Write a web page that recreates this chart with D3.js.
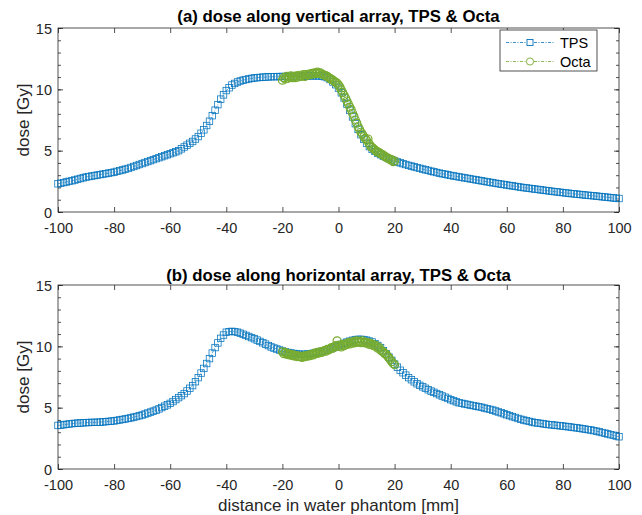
<!DOCTYPE html>
<html>
<head>
<meta charset="utf-8">
<script src="https://cdn.jsdelivr.net/npm/d3@7"></script>
<style>
  body { margin: 0; background: #fff; }
  svg { font-family: "Liberation Sans", Arial, sans-serif; }
</style>
</head>
<body>
<div id="chart"></div>
<script>
// distance grid [mm]
var xTps = d3.range(-100, 101, 1);
var xOcta = d3.range(-20, 20.25, 0.5);

// dose [Gy], vertical array
var tpsVertical = [
  2.30, 2.35, 2.40, 2.45, 2.50, 2.55, 2.61, 2.67, 2.73, 2.79,
  2.85, 2.89, 2.93, 2.97, 3.01, 3.05, 3.09, 3.13, 3.17, 3.21,
  3.25, 3.31, 3.37, 3.43, 3.49, 3.55, 3.63, 3.71, 3.79, 3.87,
  3.95, 4.03, 4.11, 4.19, 4.27, 4.35, 4.43, 4.51, 4.59, 4.67,
  4.75, 4.83, 4.91, 5.00, 5.15, 5.30, 5.45, 5.60, 5.75, 5.95,
  6.15, 6.42, 6.70, 7.05, 7.40, 7.85, 8.30, 8.75, 9.20, 9.55,
  9.90, 10.13, 10.35, 10.48, 10.60, 10.68, 10.75, 10.80, 10.85, 10.89,
  10.93, 10.95, 10.97, 10.99, 11.00, 11.02, 11.03, 11.03, 11.04, 11.04,
  11.05, 11.05, 11.05, 11.06, 11.06, 11.06, 11.07, 11.07, 11.08, 11.09,
  11.10, 11.10, 11.10, 11.10, 11.08, 11.03, 10.95, 10.80, 10.60, 10.38,
  10.10, 9.72, 9.30, 8.80, 8.30, 7.75, 7.20, 6.73, 6.30, 5.93,
  5.60, 5.33, 5.10, 4.94, 4.80, 4.67, 4.55, 4.45, 4.35, 4.25,
  4.15, 4.08, 4.01, 3.94, 3.87, 3.80, 3.74, 3.68, 3.62, 3.56,
  3.50, 3.44, 3.39, 3.33, 3.28, 3.22, 3.17, 3.12, 3.08, 3.03,
  2.98, 2.94, 2.90, 2.86, 2.82, 2.78, 2.74, 2.70, 2.66, 2.62,
  2.58, 2.54, 2.50, 2.46, 2.42, 2.38, 2.34, 2.31, 2.27, 2.24,
  2.20, 2.16, 2.13, 2.09, 2.06, 2.02, 1.99, 1.96, 1.93, 1.90,
  1.87, 1.84, 1.81, 1.78, 1.75, 1.72, 1.69, 1.66, 1.64, 1.61,
  1.58, 1.55, 1.53, 1.50, 1.48, 1.45, 1.43, 1.41, 1.38, 1.36,
  1.34, 1.32, 1.29, 1.27, 1.24, 1.22, 1.20, 1.17, 1.15, 1.12,
  1.10
];
var octaVertical = [
  10.75, 10.95, 10.85, 11.05, 10.90, 11.00, 11.10, 10.95, 11.05, 10.95,
  11.10, 11.00, 11.15, 11.05, 11.10, 11.20, 11.05, 11.20, 11.15, 11.25,
  11.20, 11.30, 11.25, 11.35, 11.30, 11.40, 11.30, 11.35, 11.25, 11.20,
  11.15, 11.10, 11.05, 10.95, 10.90, 10.80, 10.75, 10.65, 10.55, 10.50,
  10.35, 10.20, 9.95, 9.75, 9.50, 9.30, 9.05, 8.80, 8.55, 8.35,
  8.05, 7.80, 7.50, 7.25, 6.95, 6.75, 6.50, 6.35, 6.15, 6.00,
  5.85, 5.95, 5.55, 5.35, 5.25, 5.15, 5.05, 4.95, 4.90, 4.85,
  4.75, 4.70, 4.60, 4.55, 4.45, 4.40, 4.35, 4.25, 4.25, 4.10,
  4.15
];

// dose [Gy], horizontal array
var tpsHorizontal = [
  3.55, 3.58, 3.61, 3.64, 3.67, 3.70, 3.72, 3.74, 3.75, 3.77,
  3.78, 3.79, 3.80, 3.80, 3.81, 3.82, 3.84, 3.86, 3.88, 3.90,
  3.92, 3.96, 4.00, 4.04, 4.08, 4.12, 4.17, 4.23, 4.28, 4.34,
  4.40, 4.48, 4.56, 4.64, 4.72, 4.80, 4.90, 5.01, 5.12, 5.23,
  5.35, 5.50, 5.66, 5.82, 5.98, 6.15, 6.36, 6.58, 6.80, 7.12,
  7.45, 7.82, 8.20, 8.60, 9.00, 9.45, 9.90, 10.28, 10.65, 10.92,
  11.15, 11.20, 11.22, 11.20, 11.15, 11.07, 10.98, 10.89, 10.80, 10.71,
  10.62, 10.51, 10.40, 10.29, 10.18, 10.06, 9.95, 9.86, 9.78, 9.70,
  9.62, 9.56, 9.50, 9.46, 9.42, 9.38, 9.36, 9.35, 9.35, 9.37,
  9.40, 9.44, 9.49, 9.54, 9.59, 9.65, 9.72, 9.80, 9.88, 9.96,
  10.05, 10.15, 10.25, 10.35, 10.42, 10.49, 10.55, 10.57, 10.57, 10.55,
  10.50, 10.43, 10.35, 10.22, 10.07, 9.90, 9.65, 9.40, 9.12, 8.85,
  8.55, 8.30, 8.05, 7.85, 7.65, 7.45, 7.28, 7.11, 6.95, 6.82,
  6.70, 6.58, 6.46, 6.35, 6.25, 6.15, 6.05, 5.95, 5.85, 5.75,
  5.65, 5.57, 5.48, 5.40, 5.35, 5.30, 5.26, 5.21, 5.17, 5.12,
  5.08, 5.03, 4.97, 4.92, 4.86, 4.80, 4.73, 4.65, 4.58, 4.50,
  4.42, 4.35, 4.27, 4.20, 4.12, 4.05, 3.99, 3.94, 3.88, 3.83,
  3.78, 3.75, 3.72, 3.68, 3.65, 3.62, 3.60, 3.57, 3.55, 3.52,
  3.50, 3.47, 3.44, 3.41, 3.38, 3.35, 3.32, 3.28, 3.25, 3.21,
  3.18, 3.13, 3.08, 3.03, 2.97, 2.92, 2.86, 2.80, 2.75, 2.69,
  2.63
];
var octaHorizontal = [
  9.55, 9.40, 9.50, 9.35, 9.40, 9.30, 9.35, 9.25, 9.30, 9.20,
  9.25, 9.15, 9.20, 9.15, 9.10, 9.20, 9.15, 9.25, 9.20, 9.30,
  9.25, 9.35, 9.30, 9.45, 9.40, 9.50, 9.45, 9.55, 9.50, 9.60,
  9.65, 9.60, 9.75, 9.70, 9.80, 9.90, 9.85, 9.95, 10.05, 10.45,
  10.00, 10.10, 9.95, 10.15, 10.05, 10.20, 10.15, 10.30, 10.20, 10.35,
  10.25, 10.40, 10.30, 10.45, 10.35, 10.40, 10.30, 10.45, 10.30, 10.35,
  10.25, 10.30, 10.15, 10.25, 10.10, 10.15, 10.00, 10.05, 9.85, 9.90,
  9.70, 9.60, 9.55, 9.40, 9.35, 9.20, 9.05, 8.90, 8.75, 8.60,
  8.50
];

var titles = ["(a) dose along vertical array, TPS & Octa", "(b) dose along horizontal array, TPS & Octa"];
var seriesNames = ["TPS", "Octa"];
var xTicks = [-100, -80, -60, -40, -20, 0, 20, 40, 60, 80, 100];
var yTicks = [0, 5, 10, 15];
var yMinor = d3.range(0, 16, 1);

var width = 642, height = 515;
var plotLeft = 58, plotRight = 619;
var panelTops = [28, 285];
var titleY = [21.5, 280.5];
var plotHeight = 184;
var blue = "#0072BD", green = "#77AC30", axisColor = "#262626";

var svg = d3.select("#chart").append("svg")
  .attr("width", width)
  .attr("height", height);

var x = d3.scaleLinear().domain([-100, 100]).range([plotLeft, plotRight]);

var panels = [
  {tps: tpsVertical, octa: octaVertical, legend: true},
  {tps: tpsHorizontal, octa: octaHorizontal, legend: false}
];

panels.forEach(function(p, i) {
  var top = panelTops[i];
  var y = d3.scaleLinear().domain([0, 15]).range([top + plotHeight, top]);
  var g = svg.append("g");

  // axes, ticks pointing inward
  var xb = g.append("g").attr("transform", "translate(0," + (top + plotHeight) + ")")
    .call(d3.axisBottom(x).tickValues(xTicks).tickSize(-5).tickSizeOuter(0).tickPadding(11).tickFormat(d3.format("d")));
  g.append("g").attr("transform", "translate(0," + top + ")")
    .call(d3.axisTop(x).tickValues(xTicks).tickSize(-5).tickSizeOuter(0).tickFormat(""));
  g.append("g").attr("transform", "translate(" + plotLeft + ",0)")
    .call(d3.axisLeft(y).tickValues(yMinor).tickSize(-3).tickSizeOuter(0).tickFormat(""));
  var yl = g.append("g").attr("transform", "translate(" + plotLeft + ",0)")
    .call(d3.axisLeft(y).tickValues(yTicks).tickSize(-5).tickSizeOuter(0).tickPadding(6));
  g.append("g").attr("transform", "translate(" + plotRight + ",0)")
    .call(d3.axisRight(y).tickValues(yMinor).tickSize(-3).tickSizeOuter(0).tickFormat(""));
  g.append("g").attr("transform", "translate(" + plotRight + ",0)")
    .call(d3.axisRight(y).tickValues(yTicks).tickSize(-5).tickSizeOuter(0).tickFormat(""));

  g.selectAll(".domain").remove();
  g.selectAll(".tick line").attr("stroke", axisColor).attr("stroke-width", 0.8);
  g.selectAll(".tick text").attr("fill", axisColor).style("font-size", "14.5px");
  xb.selectAll(".tick text").text(function(d) { return d; });
  yl.selectAll(".tick text").attr("dy", "0.36em");

  g.append("rect")
    .attr("x", plotLeft).attr("y", top)
    .attr("width", plotRight - plotLeft).attr("height", plotHeight)
    .attr("fill", "none").attr("stroke", axisColor).attr("stroke-width", 0.8);

  // title
  g.append("text")
    .attr("x", (plotLeft + plotRight) / 2)
    .attr("y", titleY[i])
    .attr("text-anchor", "middle")
    .attr("fill", "#000")
    .style("font-size", "16.8px").style("font-weight", "bold")
    .text(titles[i]);

  // y label
  g.append("text")
    .attr("transform", "translate(29," + (top + plotHeight / 2) + ") rotate(-90)")
    .attr("text-anchor", "middle")
    .attr("fill", axisColor)
    .style("font-size", "17px")
    .text("dose [Gy]");

  var tpsData = xTps.map(function(d, k) { return [d, p.tps[k]]; });
  var octaData = xOcta.map(function(d, k) { return [d, p.octa[k]]; });
  var line = d3.line().x(function(d) { return x(d[0]); }).y(function(d) { return y(d[1]); });

  // TPS
  g.append("path").datum(tpsData)
    .attr("d", line).attr("fill", "none")
    .attr("stroke", blue).attr("stroke-width", 0.6).attr("stroke-dasharray", "3,1.5,1,1.5");
  g.selectAll(".sq").data(tpsData).enter().append("rect")
    .attr("class", "sq")
    .attr("x", function(d) { return x(d[0]) - 3.25; })
    .attr("y", function(d) { return y(d[1]) - 3.25; })
    .attr("width", 6.5).attr("height", 6.5)
    .attr("fill", "none").attr("stroke", blue).attr("stroke-width", 0.75);

  // Octa
  g.append("path").datum(octaData)
    .attr("d", line).attr("fill", "none")
    .attr("stroke", green).attr("stroke-width", 0.6).attr("stroke-dasharray", "3,1.5,1,1.5");
  g.selectAll(".ci").data(octaData).enter().append("circle")
    .attr("class", "ci")
    .attr("cx", function(d) { return x(d[0]); })
    .attr("cy", function(d) { return y(d[1]); })
    .attr("r", 4)
    .attr("fill", "none").attr("stroke", green).attr("stroke-width", 1.2);

  if (p.legend) {
    var lg = g.append("g").attr("transform", "translate(500,30)");
    lg.append("rect").attr("width", 97).attr("height", 41)
      .attr("fill", "#fff").attr("stroke", axisColor).attr("stroke-width", 0.8);
    [blue, green].forEach(function(c, k) {
      var ly = 12.5 + k * 19;
      lg.append("line").attr("x1", 6).attr("x2", 54).attr("y1", ly).attr("y2", ly)
        .attr("stroke", c).attr("stroke-width", 0.8).attr("stroke-dasharray", "3,1.5,1,1.5");
      if (k === 0) {
        lg.append("rect").attr("x", 27).attr("y", ly - 3).attr("width", 6).attr("height", 6)
          .attr("fill", "#fff").attr("stroke", c).attr("stroke-width", 0.9);
      } else {
        lg.append("circle").attr("cx", 30).attr("cy", ly).attr("r", 3.6)
          .attr("fill", "#fff").attr("stroke", c).attr("stroke-width", 0.9);
      }
      lg.append("text").attr("x", 60).attr("y", ly + 5)
        .attr("fill", "#000").style("font-size", "14.5px")
        .text(seriesNames[k]);
    });
  }
});

// x label
svg.append("text")
  .attr("x", (plotLeft + plotRight) / 2)
  .attr("y", 511)
  .attr("text-anchor", "middle")
  .attr("fill", axisColor)
  .style("font-size", "17px")
  .text("distance in water phantom [mm]");
</script>
</body>
</html>
